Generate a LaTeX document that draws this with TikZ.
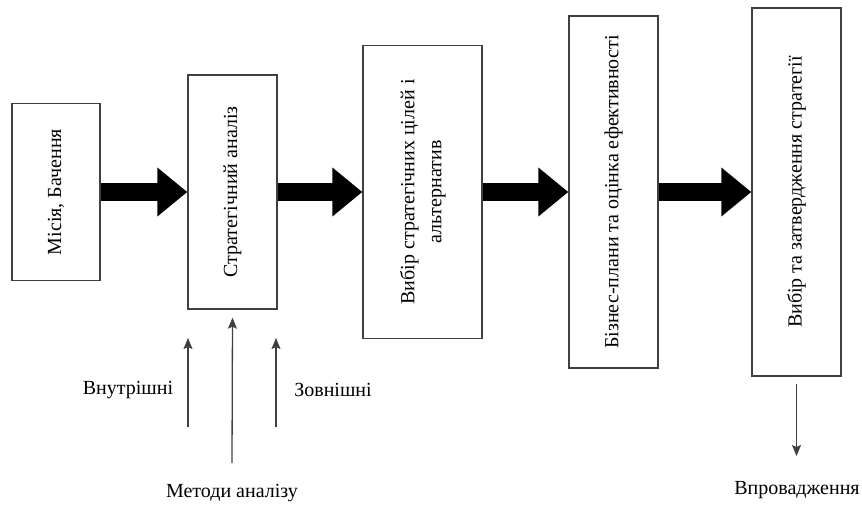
\documentclass[tikz,border=0pt]{standalone}
\usepackage{fontspec}
\newfontfamily\tnr{LiberationSerif-Regular.ttf}
\usetikzlibrary{arrows.meta,calc}
\begin{document}
\begin{tikzpicture}[x=1pt,y=-1pt,
  box/.style={draw=black!75,line width=1.3pt,inner sep=0pt,fill=white,font=\tnr\fontsize{20}{27}\selectfont},
  fat/.style={line width=18pt,-{Triangle[length=30pt,width=47pt]}},
  thin/.style={line width=1.3pt,draw=black!75,-{Stealth[length=11pt,width=9pt,inset=2pt]}},
  lbl/.style={inner sep=0pt,font=\tnr\fontsize{20}{24}\selectfont}]
\useasboundingbox (0,0) rectangle (862,504);
\node[box,minimum width=88pt,minimum height=177pt] (b1) at (56,192) {\rotatebox{90}{Місія, Бачення}};
\node[box,minimum width=89pt,minimum height=234pt] (b2) at (232.5,192) {\rotatebox{90}{Стратегічний аналіз}};
\node[box,minimum width=119pt,minimum height=293pt] (b3) at (422.5,192) {\rotatebox{90}{\begin{tabular}{@{}c@{}}Вибір стратегічних цілей і\\альтернатив\end{tabular}}};
\node[box,minimum width=89pt,minimum height=352pt] (b4) at (613.5,192) {\rotatebox{90}{Бізнес-плани та оцінка ефективності}};
\node[box,minimum width=89pt,minimum height=368pt] (b5) at (796.5,192) {\rotatebox{90}{Вибір та затвердження стратегії}};
\draw[fat] (b1.east) -- (b2.west);
\draw[fat] (b2.east) -- (b3.west);
\draw[fat] (b3.east) -- (b4.west);
\draw[fat] (b4.east) -- (b5.west);
\coordinate (l0) at (188,427); \coordinate (l1) at (188,338);
\coordinate (m0) at (232,463); \coordinate (m1) at ($(b2.south)+(0,8)$);
\coordinate (r0) at (276,427); \coordinate (r1) at (276,338);
\coordinate (d0) at ($(b5.south)+(0,7)$); \coordinate (d1) at (796.5,456);
\draw[thin] (l0) -- (l1);
\draw[thin] (m0) -- (m1);
\draw[thin] (r0) -- (r1);
\draw[thin] (d0) -- (d1);
\node[lbl] (vn) at (128,390) {Внутрішні};
\node[lbl] (zv) at (333,390) {Зовнішні};
\node[lbl] (ma) at (232,493) {Методи аналізу};
\node[lbl] (vp) at (797,490) {Впровадження};
\end{tikzpicture}
\end{document}
